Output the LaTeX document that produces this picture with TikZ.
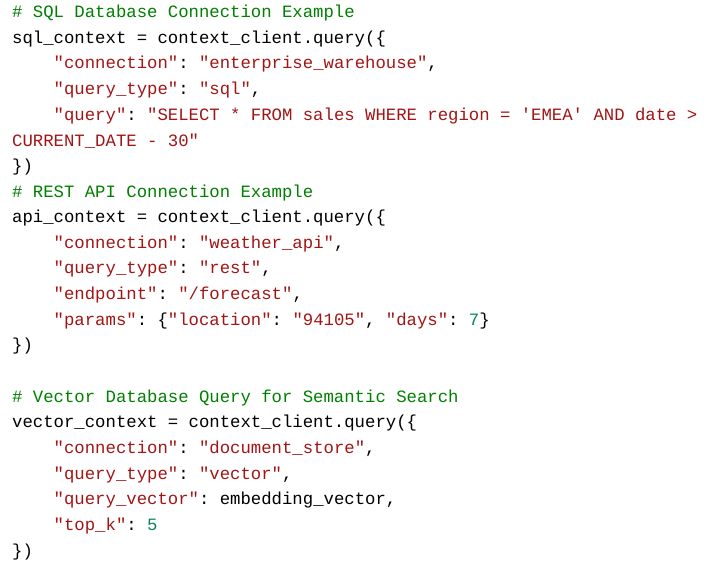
\documentclass[tikz,border=0pt]{standalone}
\usepackage{fontspec}
\setmonofont{Liberation Mono}
\definecolor{cmt}{RGB}{0,128,0}
\definecolor{str}{RGB}{163,21,21}
\definecolor{num}{RGB}{9,134,88}
\newcommand{\Cm}[1]{\textcolor{cmt}{#1}}
\newcommand{\St}[1]{\textcolor{str}{#1}}
\newcommand{\Nm}[1]{\textcolor{num}{#1}}
\begin{document}
\begin{tikzpicture}[x=1pt,y=1pt,
  codeline/.style={anchor=west,inner sep=0pt,font=\ttfamily\fontsize{17.3}{20}\selectfont,text=black}]
\useasboundingbox (0,0) rectangle (711,-573);
\fill[white] (0,0) rectangle (711,-573);
\def\Y#1{-13-(#1-1)*25.65}
\node[codeline] (l1) at (12,{\Y{1}}) {\Cm{\# SQL Database Connection Example}};
\node[codeline] (l2) at (12,{\Y{2}}) {sql\_context = context\_client.query(\{};
\node[codeline] (l3) at (12,{\Y{3}}) {\ \ \ \ \St{"connection"}: \St{"enterprise\_warehouse"},};
\node[codeline] (l4) at (12,{\Y{4}}) {\ \ \ \ \St{"query\_type"}: \St{"sql"},};
\node[codeline] (l5) at (12,{\Y{5}}) {\ \ \ \ \St{"query"}: \St{"SELECT * FROM sales WHERE region = 'EMEA' AND date >}};
\node[codeline] (l6) at (12,{\Y{6}}) {\St{CURRENT\_DATE - 30"}};
\node[codeline] (l7) at (12,{\Y{7}}) {\})};
\node[codeline] (l8) at (12,{\Y{8}}) {\Cm{\# REST API Connection Example}};
\node[codeline] (l9) at (12,{\Y{9}}) {api\_context = context\_client.query(\{};
\node[codeline] (l10) at (12,{\Y{10}}) {\ \ \ \ \St{"connection"}: \St{"weather\_api"},};
\node[codeline] (l11) at (12,{\Y{11}}) {\ \ \ \ \St{"query\_type"}: \St{"rest"},};
\node[codeline] (l12) at (12,{\Y{12}}) {\ \ \ \ \St{"endpoint"}: \St{"/forecast"},};
\node[codeline] (l13) at (12,{\Y{13}}) {\ \ \ \ \St{"params"}: \{\St{"location"}: \St{"94105"}, \St{"days"}: \Nm{7}\}};
\node[codeline] (l14) at (12,{\Y{14}}) {\})};
\node[codeline] (l16) at (12,{\Y{16}}) {\Cm{\# Vector Database Query for Semantic Search}};
\node[codeline] (l17) at (12,{\Y{17}}) {vector\_context = context\_client.query(\{};
\node[codeline] (l18) at (12,{\Y{18}}) {\ \ \ \ \St{"connection"}: \St{"document\_store"},};
\node[codeline] (l19) at (12,{\Y{19}}) {\ \ \ \ \St{"query\_type"}: \St{"vector"},};
\node[codeline] (l20) at (12,{\Y{20}}) {\ \ \ \ \St{"query\_vector"}: embedding\_vector,};
\node[codeline] (l21) at (12,{\Y{21}}) {\ \ \ \ \St{"top\_k"}: \Nm{5}};
\node[codeline] (l22) at (12,{\Y{22}}) {\})};
\end{tikzpicture}
\end{document}
